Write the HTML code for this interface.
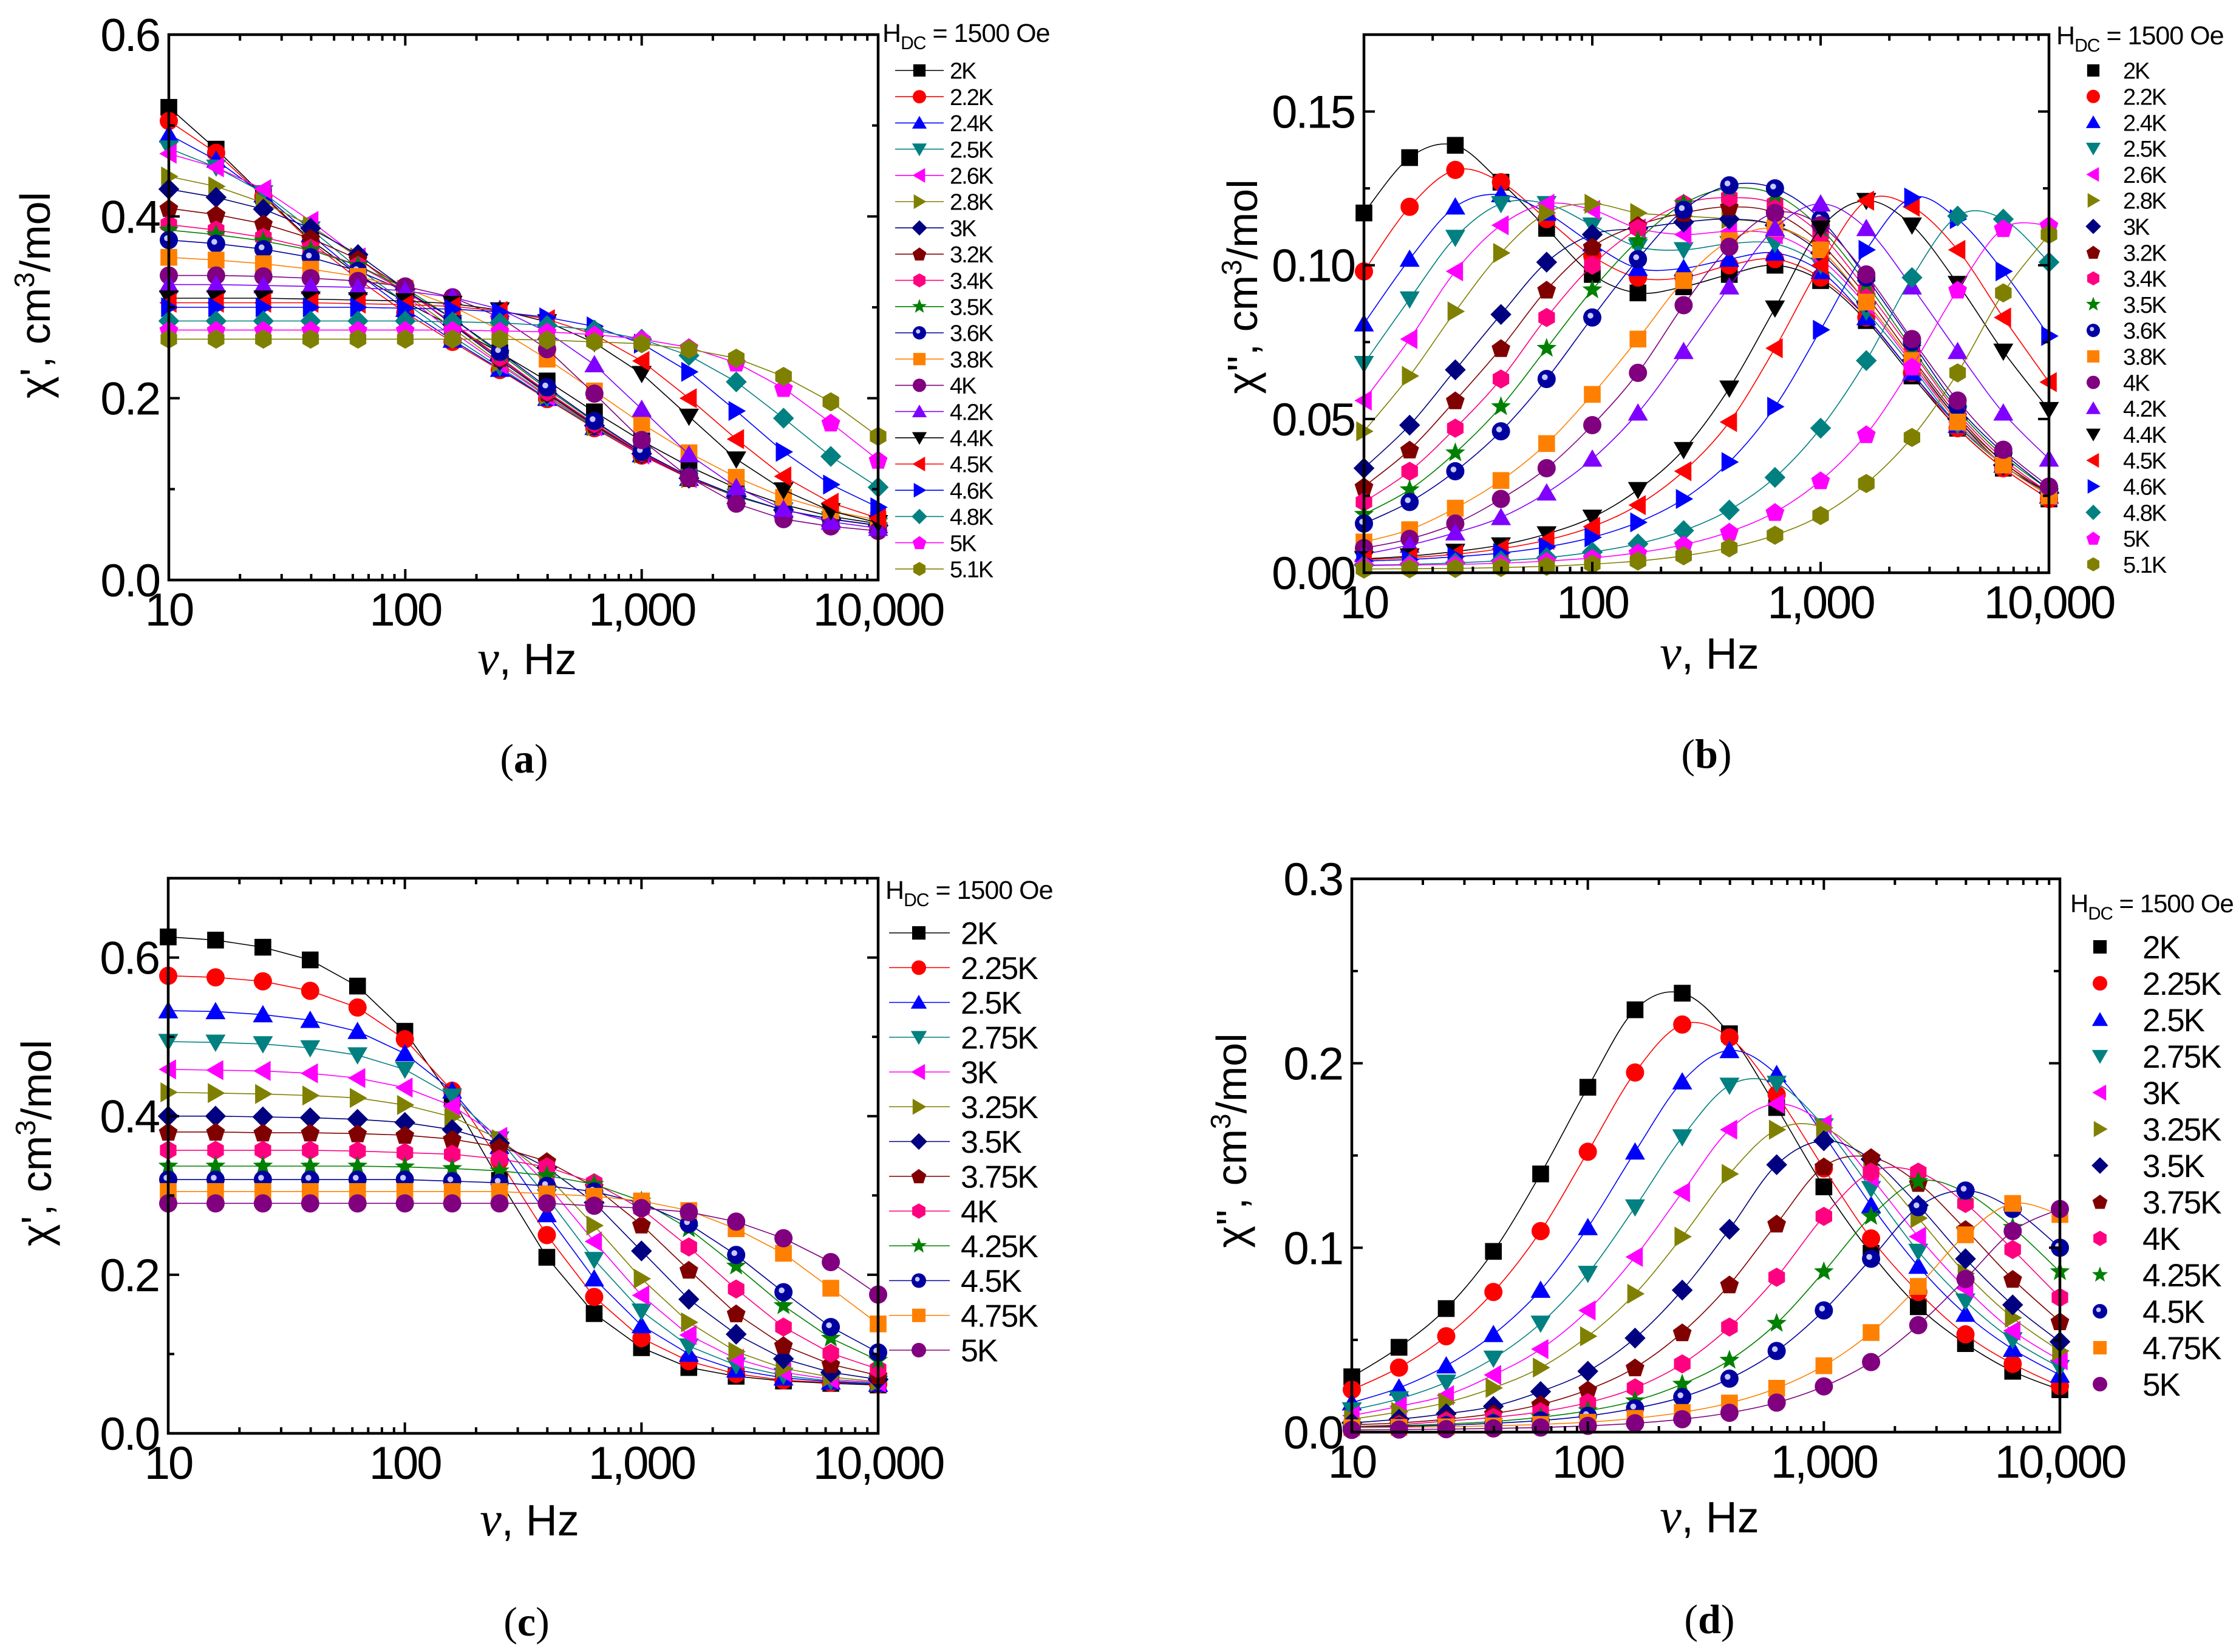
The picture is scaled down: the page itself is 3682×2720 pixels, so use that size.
<!DOCTYPE html>
<html><head><meta charset="utf-8"><title>AC susceptibility</title>
<style>
html,body{margin:0;padding:0;background:#fff;}
svg{display:block;font-family:"Liberation Sans",sans-serif;}
</style></head>
<body>
<svg id="fig" width="3682" height="2720" viewBox="0 0 3682 2720" xmlns="http://www.w3.org/2000/svg"></svg>
<script>
const freqHz=[10,15.85,25.12,39.81,63.1,100,158.5,251.2,398.1,631,1000,1585,2512,3981,6310,10000];
const tempsAB=["2K","2.2K","2.4K","2.5K","2.6K","2.8K","3K","3.2K","3.4K","3.5K","3.6K","3.8K","4K","4.2K","4.4K","4.5K","4.6K","4.8K","5K","5.1K"];
const chiRealA=[
[.520,.474,.423,.374,.336,.306,.279,.250,.219,.185,.153,.125,.101,.083,.070,.062],
[.505,.470,.422,.372,.331,.294,.262,.231,.199,.167,.137,.112,.092,.077,.067,.060],
[.490,.462,.424,.380,.337,.298,.264,.232,.200,.168,.138,.112,.092,.077,.067,.060],
[.475,.454,.426,.386,.343,.305,.268,.234,.200,.168,.138,.112,.092,.077,.067,.060],
[.469,.454,.430,.395,.355,.313,.273,.237,.202,.169,.138,.112,.092,.077,.067,.060],
[.444,.433,.415,.390,.355,.315,.277,.239,.203,.169,.139,.112,.092,.077,.067,.060],
[.430,.421,.408,.387,.358,.320,.281,.242,.205,.170,.139,.112,.092,.077,.067,.060],
[.409,.402,.392,.376,.353,.320,.282,.244,.206,.171,.139,.112,.092,.077,.067,.060],
[.391,.385,.377,.365,.346,.318,.283,.245,.207,.172,.140,.113,.092,.077,.067,.060],
[.385,.380,.373,.363,.346,.321,.288,.249,.210,.174,.141,.114,.092,.077,.067,.060],
[.374,.370,.364,.355,.340,.318,.288,.251,.212,.175,.141,.114,.093,.077,.067,.060],
[.355,.352,.348,.342,.334,.321,.301,.275,.243,.208,.172,.140,.113,.091,.076,.066],
[.335,.335,.334,.332,.329,.323,.311,.289,.254,.205,.154,.113,.084,.067,.059,.054],
[.325,.325,.324,.323,.322,.318,.311,.298,.273,.237,.188,.138,.102,.078,.064,.057],
[.310,.310,.310,.309,.308,.307,.304,.297,.284,.261,.227,.180,.133,.099,.076,.063],
[.305,.305,.305,.305,.304,.303,.301,.296,.287,.270,.241,.200,.155,.114,.085,.068],
[.300,.300,.300,.300,.300,.299,.298,.295,.289,.279,.260,.229,.186,.141,.105,.080],
[.285,.285,.285,.285,.285,.285,.284,.283,.280,.275,.265,.247,.218,.178,.136,.102],
[.275,.275,.275,.275,.275,.275,.275,.274,.273,.270,.265,.256,.239,.211,.173,.132],
[.265,.265,.265,.265,.265,.265,.265,.265,.264,.262,.260,.254,.244,.224,.196,.158]];
const chiImagB=[
[.117,.135,.139,.127,.112,.097,.091,.093,.097,.100,.095,.082,.064,.047,.034,.024],
[.098,.119,.131,.127,.115,.103,.096,.096,.100,.102,.096,.083,.065,.047,.034,.024],
[.081,.102,.119,.123,.117,.107,.099,.099,.102,.104,.098,.083,.065,.048,.035,.025],
[.068,.089,.109,.120,.120,.113,.106,.105,.107,.107,.100,.085,.067,.048,.035,.025],
[.056,.076,.098,.113,.120,.118,.112,.110,.111,.110,.102,.087,.068,.049,.035,.025],
[.046,.064,.085,.104,.117,.120,.117,.116,.115,.113,.105,.088,.069,.050,.036,.025],
[.034,.048,.066,.084,.101,.110,.112,.114,.115,.113,.104,.088,.069,.050,.035,.026],
[.028,.040,.056,.073,.092,.106,.113,.117,.119,.117,.107,.090,.070,.051,.036,.026],
[.023,.033,.047,.063,.083,.100,.112,.120,.122,.120,.110,.092,.072,.052,.037,.026],
[.019,.027,.039,.054,.073,.092,.108,.120,.125,.123,.112,.094,.073,.053,.038,.027],
[.016,.023,.033,.046,.063,.083,.102,.118,.126,.125,.115,.096,.075,.054,.039,.027],
[.010,.014,.021,.030,.042,.058,.076,.095,.108,.112,.105,.088,.069,.049,.035,.025],
[.008,.011,.016,.024,.034,.048,.065,.087,.106,.117,.113,.097,.076,.056,.040,.028],
[.006,.009,.013,.018,.026,.037,.052,.072,.093,.112,.120,.112,.093,.072,.052,.037],
[.0045,.0054,.0069,.009,.0126,.018,.027,.040,.060,.086,.112,.121,.113,.094,.072,.053],
[.0042,.0049,.006,.0078,.0106,.015,.022,.033,.049,.073,.100,.121,.119,.105,.083,.062],
[.0038,.0043,.0052,.0064,.0084,.0115,.0164,.024,.036,.054,.079,.105,.122,.115,.098,.077],
[.0025,.0027,.0032,.0039,.0049,.0067,.0094,.0137,.0204,.031,.047,.069,.096,.116,.115,.101],
[.0023,.0025,.0027,.0031,.0038,.0048,.0065,.0091,.0133,.0197,.030,.045,.067,.092,.112,.113],
[.0012,.0013,.0014,.0017,.0021,.0028,.0038,.0055,.0081,.0122,.0186,.029,.044,.065,.091,.110]];
const tempsCD=["2K","2.25K","2.5K","2.75K","3K","3.25K","3.5K","3.75K","4K","4.25K","4.5K","4.75K","5K"];
const chiRealC=[
[.626,.622,.613,.597,.564,.507,.422,.319,.222,.151,.108,.083,.072,.066,.063,.061],
[.577,.575,.570,.558,.537,.497,.432,.344,.250,.172,.120,.091,.075,.067,.064,.062],
[.533,.532,.528,.521,.507,.479,.432,.362,.276,.195,.136,.100,.080,.070,.065,.062],
[.494,.493,.491,.486,.477,.459,.425,.371,.298,.219,.154,.110,.086,.073,.066,.063],
[.459,.458,.457,.454,.448,.436,.413,.374,.314,.242,.174,.124,.094,.077,.068,.064],
[.430,.429,.428,.426,.423,.414,.399,.371,.325,.262,.195,.140,.103,.082,.071,.065],
[.400,.400,.399,.398,.396,.392,.383,.366,.335,.291,.230,.169,.125,.094,.077,.068],
[.380,.380,.379,.379,.378,.376,.371,.361,.343,.311,.263,.206,.151,.111,.087,.073],
[.357,.357,.357,.357,.356,.354,.352,.346,.336,.316,.283,.235,.182,.134,.101,.081],
[.337,.337,.337,.337,.337,.336,.334,.331,.325,.314,.293,.258,.211,.161,.120,.092],
[.320,.320,.320,.320,.320,.320,.318,.316,.312,.305,.290,.264,.225,.178,.134,.102],
[.305,.305,.305,.305,.305,.305,.305,.305,.302,.299,.293,.281,.258,.227,.183,.138],
[.290,.290,.290,.290,.290,.290,.290,.290,.290,.287,.284,.279,.267,.246,.216,.175]];
const chiImagD=[
[.030,.046,.067,.098,.140,.187,.229,.238,.216,.176,.133,.097,.068,.048,.033,.023],
[.023,.035,.052,.076,.109,.152,.195,.221,.214,.183,.143,.105,.076,.053,.037,.025],
[.016,.024,.036,.053,.077,.111,.152,.190,.207,.194,.161,.123,.090,.064,.045,.031],
[.012,.018,.027,.040,.059,.086,.122,.160,.188,.189,.166,.132,.098,.071,.050,.035],
[.009,.014,.020,.031,.045,.066,.095,.130,.164,.178,.167,.138,.106,.078,.055,.039],
[.007,.011,.016,.024,.035,.052,.075,.106,.140,.164,.165,.145,.116,.086,.062,.044],
[.005,.007,.010,.014,.022,.033,.051,.077,.110,.145,.158,.148,.123,.094,.069,.049],
[.004,.005,.007,.010,.015,.023,.035,.054,.080,.113,.144,.149,.135,.110,.083,.060],
[.003,.004,.006,.008,.011,.016,.024,.037,.057,.084,.117,.141,.141,.124,.099,.073],
[.003,.0035,.0044,.0058,.0081,.0116,.017,.026,.039,.059,.087,.117,.136,.130,.111,.087],
[.0027,.0031,.0037,.0048,.0063,.0088,.0129,.019,.029,.044,.066,.094,.122,.131,.121,.100],
[.0024,.0026,.0029,.0034,.0042,.0054,.0075,.0107,.0158,.0238,.036,.054,.079,.107,.124,.118],
[.0012,.0014,.0016,.002,.0025,.0034,.0048,.007,.0105,.016,.0248,.038,.058,.083,.109,.121]];
const xTickValues=[10,100,1000,10000];
const xTickLabels=["10","100","1,000","10,000"];
const yTicksA=[0,0.2,0.4,0.6], yLabelsA=["0.0","0.2","0.4","0.6"];
const yTicksB=[0,0.05,0.10,0.15], yLabelsB=["0.00","0.05","0.10","0.15"];
const yTicksC=[0,0.2,0.4,0.6], yLabelsC=["0.0","0.2","0.4","0.6"];
const yTicksD=[0,0.1,0.2,0.3], yLabelsD=["0.0","0.1","0.2","0.3"];

const colorsAB=["#000000","#ff0000","#0000ff","#008080","#ff00ff","#808000","#000080","#800000","#ff0080","#008000","#0000a0","#ff8000","#800080","#8000ff","#000000","#ff0000","#0000ff","#008080","#ff00ff","#808000"];
const shapesAB=["square","circle","up","down","left","right","diamond","pentagon","hexagon","star","ball","square","circle","up","down","left","right","diamond","pentagon","hexagon"];
const colorsCD=["#000000","#ff0000","#0000ff","#008080","#ff00ff","#808000","#000080","#800000","#ff0080","#008000","#0000a0","#ff8000","#800080"];
const shapesCD=["square","circle","up","down","left","right","diamond","pentagon","hexagon","star","ball","square","circle"];

const NS="http://www.w3.org/2000/svg";
const svg=document.getElementById("fig");
function mk(tag,parent){const e=document.createElementNS(NS,tag);parent.appendChild(e);return e;}
function poly(pts){return pts.map(p=>p[0].toFixed(1)+","+p[1].toFixed(1)).join(" ");}
function regular(cx,cy,r,n,rot){const p=[];for(let i=0;i<n;i++){const a=rot+i*2*Math.PI/n;p.push([cx+r*Math.cos(a),cy+r*Math.sin(a)]);}return p;}
function marker(parent,shape,cx,cy,s,color){
  let e;
  const h=s/2;
  if(shape==="square"){e=mk("rect",parent);e.setAttribute("x",cx-h*0.92);e.setAttribute("y",cy-h*0.92);e.setAttribute("width",s*0.92);e.setAttribute("height",s*0.92);}
  else if(shape==="circle"){e=mk("circle",parent);e.setAttribute("cx",cx);e.setAttribute("cy",cy);e.setAttribute("r",h);}
  else if(shape==="ball"){e=mk("g",parent);const c=mk("circle",e);c.setAttribute("cx",cx);c.setAttribute("cy",cy);c.setAttribute("r",h);c.setAttribute("fill",color);const w=mk("circle",e);w.setAttribute("cx",cx-h*0.2);w.setAttribute("cy",cy-h*0.2);w.setAttribute("r",h*0.32);w.setAttribute("fill","#c8c8ff");return e;}
  else{
    let p;
    if(shape==="up")p=[[cx,cy-h*1.05],[cx+h*1.1,cy+h*0.85],[cx-h*1.1,cy+h*0.85]];
    else if(shape==="down")p=[[cx,cy+h*1.05],[cx+h*1.1,cy-h*0.85],[cx-h*1.1,cy-h*0.85]];
    else if(shape==="left")p=[[cx-h*1.05,cy],[cx+h*0.85,cy-h*1.1],[cx+h*0.85,cy+h*1.1]];
    else if(shape==="right")p=[[cx+h*1.05,cy],[cx-h*0.85,cy-h*1.1],[cx-h*0.85,cy+h*1.1]];
    else if(shape==="diamond")p=[[cx,cy-h*1.15],[cx+h*1.15,cy],[cx,cy+h*1.15],[cx-h*1.15,cy]];
    else if(shape==="pentagon")p=regular(cx,cy+h*0.08,h*1.08,5,-Math.PI/2);
    else if(shape==="hexagon")p=regular(cx,cy,h*1.05,6,-Math.PI/2);
    else if(shape==="star"){p=[];for(let i=0;i<10;i++){const a=-Math.PI/2+i*Math.PI/5;const r=i%2?h*0.48:h*1.15;p.push([cx+r*Math.cos(a),cy+r*Math.sin(a)]);}}
    e=mk("polygon",parent);e.setAttribute("points",poly(p));
  }
  e.setAttribute("fill",color);
  return e;
}
function txt(parent,x,y,str,size,anchor,family){const t=mk("text",parent);t.setAttribute("x",x);t.setAttribute("y",y);t.setAttribute("font-size",size);t.setAttribute("text-anchor",anchor||"start");if(family)t.setAttribute("font-family",family);t.textContent=str;return t;}
function smoothPath(pts){
  let d="M"+pts[0][0].toFixed(1)+","+pts[0][1].toFixed(1);
  for(let i=0;i<pts.length-1;i++){
    const p0=pts[Math.max(0,i-1)],p1=pts[i],p2=pts[i+1],p3=pts[Math.min(pts.length-1,i+2)];
    const c1=[p1[0]+(p2[0]-p0[0])/6,p1[1]+(p2[1]-p0[1])/6],c2=[p2[0]-(p3[0]-p1[0])/6,p2[1]-(p3[1]-p1[1])/6];
    d+=" C"+c1[0].toFixed(1)+","+c1[1].toFixed(1)+" "+c2[0].toFixed(1)+","+c2[1].toFixed(1)+" "+p2[0].toFixed(1)+","+p2[1].toFixed(1);
  }
  return d;
}

function drawPanel(cfg){
  const g=mk("g",svg);
  
  
  const xs=v=>cfg.x0+(Math.log10(v)-1)/3*(cfg.x1-cfg.x0);
  const ys=v=>cfg.yb-v/cfg.ymax*(cfg.yb-cfg.yt);
  const sg=mk("g",g);
  
  
  cfg.values.forEach((arr,si)=>{
    const pts=arr.map((v,i)=>[xs(freqHz[i]),ys(v)]);
    const col=cfg.colors[si];
    const ser=mk("g",sg);
    
    
    const ln=mk("path",ser);
    ln.setAttribute("d",cfg.smooth?smoothPath(pts):"M"+pts.map(p=>p[0].toFixed(1)+","+p[1].toFixed(1)).join(" L"));
    ln.setAttribute("fill","none");
    ln.setAttribute("stroke",col);
    ln.setAttribute("stroke-width","1.6");
    
    
    pts.forEach(p=>{
      const m=marker(ser,cfg.shapes[si],p[0],p[1],cfg.ms,col);
      
      
    });
  });
  const fr=mk("rect",g);
  fr.setAttribute("x",cfg.x0);fr.setAttribute("y",cfg.yt);fr.setAttribute("width",cfg.x1-cfg.x0);fr.setAttribute("height",cfg.yb-cfg.yt);
  fr.setAttribute("fill","none");fr.setAttribute("stroke","#000");fr.setAttribute("stroke-width","4.5");
  
  
  let d="";
  for(let e=1;e<=4;e++){
    for(let k=1;k<=9;k++){
      const v=k*Math.pow(10,e);
      if(v>10000)break;
      const x=xs(v);const L=k===1?18:10;
      d+="M"+x+","+cfg.yb+"v"+(-L)+"M"+x+","+cfg.yt+"v"+L;
    }
  }
  for(let v=0;v<=cfg.ymax+1e-9;v+=cfg.minor){
    const y=ys(v);
    const major=Math.abs(v/cfg.major-Math.round(v/cfg.major))<1e-6;
    const L=major?18:10;
    d+="M"+cfg.x0+","+y+"h"+L+"M"+cfg.x1+","+y+"h"+(-L);
  }
  const tk=mk("path",g);
  tk.setAttribute("d",d);tk.setAttribute("stroke","#000");tk.setAttribute("stroke-width","4");tk.setAttribute("fill","none");
  
  
  xTickValues.forEach((v,i)=>{
    const t=txt(g,xs(v),cfg.yb+75,xTickLabels[i],76,"middle");
    t.setAttribute("letter-spacing","-3");
    
    
  });
  cfg.yTicks.forEach((v,i)=>{
    const t=txt(g,cfg.x0-16,ys(v)+27,cfg.yLabels[i],76,"end");
    t.setAttribute("letter-spacing","-3");
    
    
  });
  const xt=txt(g,cfg.xlx,cfg.xly,"",72,"middle");
  
  
  const nu=mk("tspan",xt);nu.setAttribute("font-family","Liberation Serif, serif");nu.setAttribute("font-style","italic");nu.setAttribute("font-size","80");nu.textContent="ν";
  const hz=mk("tspan",xt);hz.textContent=", Hz";
  const yt=txt(g,0,0,"",70,"middle");
  yt.setAttribute("transform","translate("+cfg.ylx+","+cfg.yly+") rotate(-90)");
  
  
  const y1=mk("tspan",yt);y1.textContent=cfg.ylabel+", cm";
  const y2=mk("tspan",yt);y2.setAttribute("dy","-26");y2.setAttribute("font-size","46");y2.textContent="3";
  const y3=mk("tspan",yt);y3.setAttribute("dy","26");y3.textContent="/mol";
  const cp=txt(g,cfg.capx,cfg.capy,"(",68,"middle","Liberation Serif, serif");
  
  
  const cb=mk("tspan",cp);cb.setAttribute("font-weight","bold");cb.textContent=cfg.cap;
  const ce=mk("tspan",cp);ce.textContent=")";
  const lg=mk("g",g);
  
  
  const lt=txt(lg,cfg.ltx,cfg.lty,"H",cfg.ltfs,"start");
  lt.setAttribute("letter-spacing","-1");
  
  
  const sub=mk("tspan",lt);sub.setAttribute("font-size",cfg.ltfs*0.7);sub.setAttribute("dy",cfg.ltfs*0.28);sub.textContent="DC";
  const rest=mk("tspan",lt);rest.setAttribute("dy",-cfg.ltfs*0.28);rest.textContent=" = 1500 Oe";
  cfg.temps.forEach((name,i)=>{
    const y=cfg.ly0+i*cfg.ldy;
    const eg=mk("g",lg);
    
    
    if(cfg.legendLine){
      const l=mk("line",eg);l.setAttribute("x1",cfg.llx0);l.setAttribute("x2",cfg.llx1);l.setAttribute("y1",y);l.setAttribute("y2",y);l.setAttribute("stroke",cfg.colors[i]);l.setAttribute("stroke-width","1.6");
    }
    marker(eg,cfg.shapes[i],cfg.lmx,y,cfg.lms,cfg.colors[i]);
    const t=txt(eg,cfg.ltxt,y+cfg.lfs*0.36,name,cfg.lfs,"start");
    t.setAttribute("letter-spacing","-2");
  });
}

drawPanel({name:"panel-a-chi-real",x0:278,x1:1446,yt:57,yb:955,ymax:0.6,major:0.2,minor:0.1,yTicks:yTicksA,yLabels:yLabelsA,values:chiRealA,temps:tempsAB,colors:colorsAB,shapes:shapesAB,smooth:false,ms:30,
  xlx:868,xly:1110,ylx:82,yly:486,ylabel:"χ'",capx:863,capy:1272,cap:"a",
  ltx:1453,lty:69,ltfs:43,ly0:116,ldy:43.2,legendLine:true,llx0:1474,llx1:1554,lmx:1514,lms:22,ltxt:1564,lfs:38});
drawPanel({name:"panel-b-chi-imag",x0:2246,x1:3374,yt:57,yb:943,ymax:0.175,major:0.05,minor:0.025,yTicks:yTicksB,yLabels:yLabelsB,values:chiImagB,temps:tempsAB,colors:colorsAB,shapes:shapesAB,smooth:true,ms:30,
  xlx:2815,xly:1101,ylx:2070,yly:472,ylabel:"χ''",capx:2810,capy:1264,cap:"b",
  ltx:3386,lty:73,ltfs:43,ly0:116,ldy:42.8,legendLine:false,lmx:3447,lms:22,ltxt:3496,lfs:38});
drawPanel({name:"panel-c-chi-real",x0:277,x1:1446,yt:1446,yb:2360,ymax:0.7,major:0.2,minor:0.1,yTicks:yTicksC,yLabels:yLabelsC,values:chiRealC,temps:tempsCD,colors:colorsCD,shapes:shapesCD,smooth:false,ms:30,
  xlx:872,xly:2528,ylx:84,yly:1882,ylabel:"χ'",capx:867,capy:2693,cap:"c",
  ltx:1458,lty:1480,ltfs:43,ly0:1536,ldy:57.25,legendLine:true,llx0:1464,llx1:1564,lmx:1513,lms:24,ltxt:1582,lfs:52});
drawPanel({name:"panel-d-chi-imag",x0:2226,x1:3392,yt:1447,yb:2358,ymax:0.3,major:0.1,minor:0.05,yTicks:yTicksD,yLabels:yLabelsD,values:chiImagD,temps:tempsCD,colors:colorsCD,shapes:shapesCD,smooth:true,ms:30,
  xlx:2815,xly:2523,ylx:2052,yly:1878,ylabel:"χ''",capx:2815,capy:2689,cap:"d",
  ltx:3409,lty:1502,ltfs:42,ly0:1559,ldy:60,legendLine:false,lmx:3458,lms:24,ltxt:3528,lfs:53});
</script>
</body></html>
